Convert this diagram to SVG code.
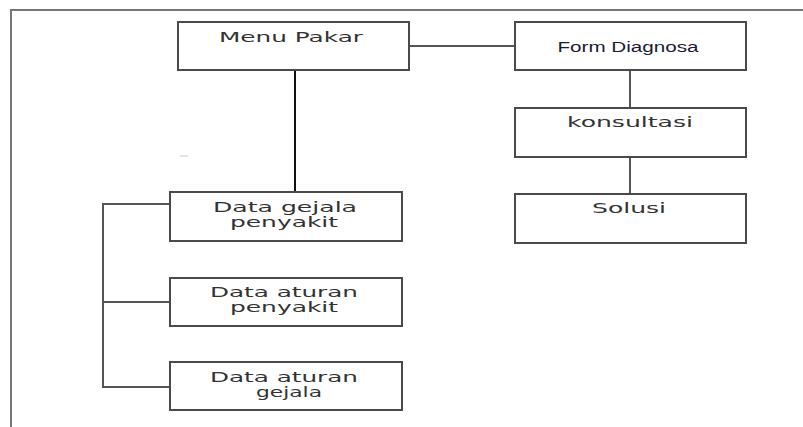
<svg xmlns="http://www.w3.org/2000/svg" width="803" height="427" viewBox="0 0 803 427">
  <style>
    .box { fill: #ffffff; stroke: #4a4a4a; stroke-width: 2; }
    .link { fill: none; stroke: #555555; stroke-width: 2; }
    .main { stroke: #111111; }
    .lbl { font-family: "DejaVu Sans", Verdana, sans-serif; font-size: 14px; fill: #333333; text-anchor: middle; }
    .lbl2 { font-family: "Liberation Sans", Arial, sans-serif; font-size: 14px; fill: #1a1a33; text-anchor: middle; }
  </style>
  <rect width="803" height="427" fill="#ffffff"/>
  <!-- page frame -->
  <path d="M11,427 V10 H803" fill="none" stroke="#777777" stroke-width="2"/>
  <line x1="180" y1="156" x2="188" y2="156" stroke="#cccccc" stroke-width="1"/>

  <g id="connectors">
    <line class="link main" x1="295" y1="70" x2="295" y2="192"/>
    <line class="link" x1="409" y1="46" x2="515" y2="46"/>
    <line class="link" x1="630" y1="70" x2="630" y2="108"/>
    <line class="link" x1="630" y1="157" x2="630" y2="194"/>
    <path class="link" d="M170,204 H103 V387 H170 M103,302 H170"/>
  </g>

  <g id="menu-pakar">
    <rect class="box" x="178" y="22" width="231" height="48"/>
    <text class="lbl" x="291" y="42" textLength="144" lengthAdjust="spacingAndGlyphs">Menu Pakar</text>
  </g>
  <g id="form-diagnosa">
    <rect class="box" x="515" y="22" width="231" height="48"/>
    <text class="lbl2" x="628" y="52" textLength="141" lengthAdjust="spacingAndGlyphs">Form Diagnosa</text>
  </g>
  <g id="konsultasi">
    <rect class="box" x="515" y="108" width="231" height="49"/>
    <text class="lbl" x="630" y="127" textLength="126" lengthAdjust="spacingAndGlyphs">konsultasi</text>
  </g>
  <g id="solusi">
    <rect class="box" x="515" y="194" width="231" height="49"/>
    <text class="lbl" x="629" y="213" textLength="74" lengthAdjust="spacingAndGlyphs">Solusi</text>
  </g>
  <g id="data-gejala-penyakit">
    <rect class="box" x="170" y="192" width="232" height="49"/>
    <text class="lbl" x="285" y="212" textLength="144" lengthAdjust="spacingAndGlyphs">Data gejala</text>
    <text class="lbl" x="284" y="227" textLength="108" lengthAdjust="spacingAndGlyphs">penyakit</text>
  </g>
  <g id="data-aturan-penyakit">
    <rect class="box" x="170" y="278" width="232" height="48"/>
    <text class="lbl" x="284" y="297" textLength="148" lengthAdjust="spacingAndGlyphs">Data aturan</text>
    <text class="lbl" x="284" y="312" textLength="108" lengthAdjust="spacingAndGlyphs">penyakit</text>
  </g>
  <g id="data-aturan-gejala">
    <rect class="box" x="170" y="362" width="232" height="48"/>
    <text class="lbl" x="284" y="382" textLength="148" lengthAdjust="spacingAndGlyphs">Data aturan</text>
    <text class="lbl" x="289" y="397" textLength="66" lengthAdjust="spacingAndGlyphs">gejala</text>
  </g>
</svg>
